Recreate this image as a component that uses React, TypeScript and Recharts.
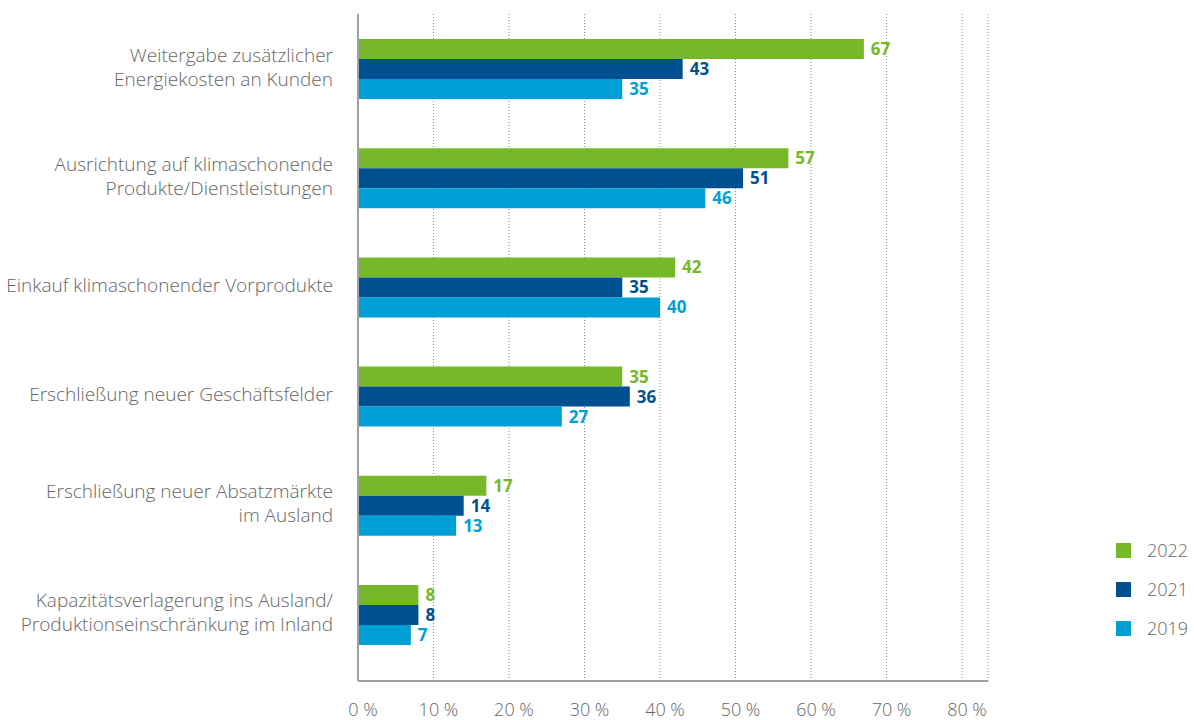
import { BarChart, Bar, XAxis, YAxis, CartesianGrid, LabelList } from "recharts";

const categories = [
  "Weitergabe zusätzlicher\nEnergiekosten an Kunden",
  "Ausrichtung auf klimaschonende\nProdukte/Dienstleistungen",
  "Einkauf klimaschonender Vorprodukte",
  "Erschließung neuer Geschäftsfelder",
  "Erschließung neuer Absatzmärkte\nim Ausland",
  "Kapazitätsverlagerung ins Ausland/\nProduktionseinschränkung im Inland",
];
const values2022 = [67, 57, 42, 35, 17, 8];
const values2021 = [43, 51, 35, 36, 14, 8];
const values2019 = [35, 46, 40, 27, 13, 7];
const xTicks = [0, 10, 20, 30, 40, 50, 60, 70, 80];

const series = [
  { key: "y2022", name: "2022", color: "#76b82a" },
  { key: "y2021", name: "2021", color: "#00508f" },
  { key: "y2019", name: "2019", color: "#00a0d6" },
];

const data = categories.map((name, i) => ({
  name,
  y2022: values2022[i],
  y2021: values2021[i],
  y2019: values2019[i],
}));

const FONT = "'Open Sans', sans-serif";
const GREY = "#666";

function CategoryTick({ x, y, payload }: any) {
  const lines = String(payload.value).split("\n");
  const first = 5 - (lines.length - 1) * 12;
  return (
    <text x={x} y={y} textAnchor="end" fill={GREY} fontSize={19} fontWeight={300} fontFamily={FONT}>
      {lines.map((line, i) => (
        <tspan key={i} x={x} y={y + first + i * 24}>
          {line}
        </tspan>
      ))}
    </text>
  );
}

function PercentTick({ x, y, payload }: any) {
  return (
    <text x={x + 5} y={y + 35} textAnchor="middle" fill={GREY} fontSize={18} fontWeight={300} fontFamily={FONT}>
      {`${payload.value} %`}
    </text>
  );
}

export default function App() {
  return (
    <div style={{ position: "fixed", left: 0, top: 0, width: 1194, height: 720, background: "#fff" }}>
      <BarChart
        width={1194}
        height={720}
        data={data}
        layout="vertical"
        margin={{ top: 14, right: 206, bottom: 0, left: 0 }}
        barCategoryGap="23%"
        barGap={0}
      >
        <CartesianGrid horizontal={false} stroke="#8a8a8a" strokeDasharray="1 2" />
        <XAxis
          type="number"
          domain={[0, 83.44]}
          ticks={xTicks}
          height={39}
          tickLine={false}
          tickSize={0}
          tickMargin={0}
          axisLine={{ stroke: "#a0a0a0", strokeWidth: 2 }}
          tick={<PercentTick />}
        />
        <YAxis
          type="category"
          dataKey="name"
          width={358}
          padding={{ top: 0, bottom: 12 }}
          tickLine={false}
          tickSize={0}
          tickMargin={25}
          axisLine={{ stroke: "#a0a0a0", strokeWidth: 2 }}
          tick={<CategoryTick />}
          interval={0}
        />
        {series.map((s) => (
          <Bar key={s.key} dataKey={s.key} name={s.name} fill={s.color} isAnimationActive={false}>
            <LabelList
              dataKey={s.key}
              position="right"
              offset={7}
              fill={s.color}
              fontSize={17}
              fontWeight={700}
              fontFamily={FONT}
            />
          </Bar>
        ))}
      </BarChart>
      <div style={{ position: "absolute", left: 1116, top: 540, fontFamily: FONT, fontWeight: 300 }}>
        {series.map((s) => (
          <div key={s.key} style={{ display: "flex", alignItems: "center", height: 20, marginBottom: 19 }}>
            <div style={{ width: 15, height: 15, background: s.color, marginRight: 16 }} />
            <span style={{ color: GREY, fontSize: 18 }}>{s.name}</span>
          </div>
        ))}
      </div>
    </div>
  );
}
